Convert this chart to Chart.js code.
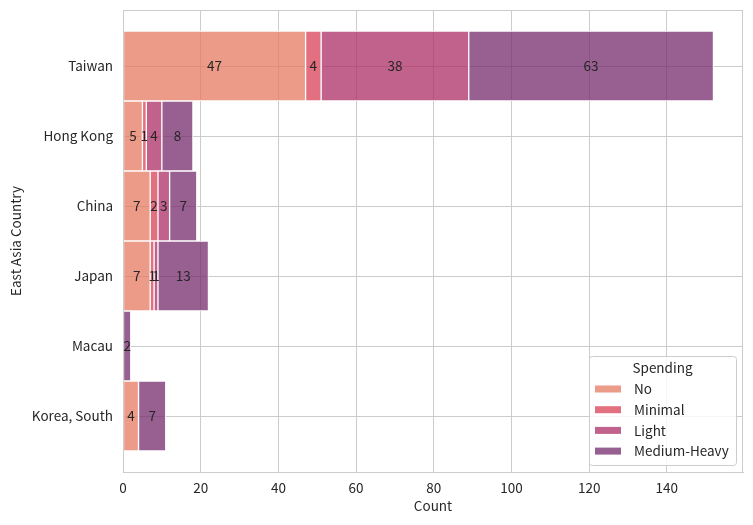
<!DOCTYPE html>
<html>
<head>
<meta charset="utf-8">
<script src="https://cdn.jsdelivr.net/npm/chart.js@4.4.1/dist/chart.umd.min.js"></script>
<style>
  html, body { margin: 0; padding: 0; background: #fff; }
  #wrap { width: 753px; height: 525px; }
</style>
</head>
<body>
<div id="wrap"><canvas id="chart"></canvas></div>
<script>
// data
const countries = ['Taiwan', 'Hong Kong', 'China', 'Japan', 'Macau', 'Korea, South'];
const spendingLevels = ['No', 'Minimal', 'Light', 'Medium-Heavy'];
const noCounts = [47, 5, 7, 7, 0, 4];
const minimalCounts = [4, 1, 2, 1, 0, 0];
const lightCounts = [38, 4, 3, 1, 0, 0];
const heavyCounts = [63, 8, 7, 13, 2, 7];
const xTickStep = 20;

const seriesCounts = [noCounts, minimalCounts, lightCounts, heavyCounts];
const seriesColors = [
  'rgba(228, 122, 95, 0.75)',
  'rgba(216, 64, 86, 0.75)',
  'rgba(171, 46, 102, 0.75)',
  'rgba(118, 43, 108, 0.75)'
];

const FONT = '"Noto Sans CJK JP", "Noto Sans", sans-serif';
const FS = 13.5;
const GRID = '#cccccc';
const TEXT = '#262626';

const totals = countries.map((c, i) => seriesCounts.reduce((s, arr) => s + arr[i], 0));
const xMax = Math.max(...totals) * 1.05;

const datasets = spendingLevels.map((name, k) => ({
  label: name,
  data: seriesCounts[k].map((v, i) => ({ x: v, y: i })).filter(p => p.x > 0),
  backgroundColor: seriesColors[k],
  borderColor: '#ffffff',
  borderWidth: 1,
  borderSkipped: false,
  barPercentage: 1,
  categoryPercentage: 1
}));

// value labels in the middle of each segment
const segmentLabels = {
  id: 'segmentLabels',
  afterDatasetsDraw(chart) {
    const ctx = chart.ctx;
    ctx.save();
    ctx.font = FS + 'px ' + FONT;
    ctx.fillStyle = TEXT;
    ctx.textAlign = 'center';
    ctx.textBaseline = 'middle';
    chart.data.datasets.forEach((ds, di) => {
      const meta = chart.getDatasetMeta(di);
      meta.data.forEach((bar, j) => {
        const p = bar.getProps(['x', 'y', 'base'], true);
        ctx.fillText(String(ds.data[j].x), (p.x + p.base) / 2, p.y);
      });
    });
    // frame on all four sides
    const a = chart.chartArea;
    ctx.strokeStyle = GRID;
    ctx.lineWidth = 1;
    ctx.strokeRect(Math.round(a.left) + 0.5, Math.round(a.top) + 0.5,
      Math.round(a.right - a.left) - 1, Math.round(a.bottom - a.top));
    ctx.restore();
  }
};

// legend box inside the lower right corner
const insetLegend = {
  id: 'insetLegend',
  afterDraw(chart) {
    const ctx = chart.ctx;
    const a = chart.chartArea;
    const w = 147, h = 109;
    const x0 = a.right - 7 - w, y0 = a.bottom - 7 - h;
    ctx.save();
    ctx.beginPath();
    ctx.roundRect(x0 + 0.5, y0 + 0.5, w, h, 3);
    ctx.fillStyle = 'rgba(255,255,255,0.8)';
    ctx.fill();
    ctx.strokeStyle = GRID;
    ctx.lineWidth = 1;
    ctx.stroke();
    ctx.font = FS + 'px ' + FONT;
    ctx.fillStyle = TEXT;
    ctx.textBaseline = 'middle';
    ctx.textAlign = 'center';
    ctx.fillText('Spending', x0 + w / 2, y0 + 12);
    ctx.textAlign = 'left';
    chart.data.datasets.forEach((ds, i) => {
      const cy = y0 + 33 + i * 20.7;
      ctx.fillStyle = ds.backgroundColor;
      ctx.fillRect(x0 + 6, cy - 3.5, 26, 7);
      ctx.fillStyle = TEXT;
      ctx.fillText(ds.label, x0 + 45, cy);
    });
    ctx.restore();
  }
};

new Chart(document.getElementById('chart'), {
  type: 'bar',
  data: { datasets },
  plugins: [segmentLabels, insetLegend],
  options: {
    indexAxis: 'y',
    responsive: true,
    maintainAspectRatio: false,
    animation: false,
    layout: { padding: { top: 10, right: 10, left: 8, bottom: 11 } },
    scales: {
      x: {
        type: 'linear',
        stacked: true,
        min: 0,
        max: xMax,
        grid: { color: GRID, drawTicks: false },
        border: { color: GRID },
        ticks: {
          stepSize: xTickStep,
          includeBounds: false,
          padding: 8,
          color: TEXT,
          font: { family: FONT, size: FS }
        },
        title: {
          display: true,
          text: 'Count',
          color: TEXT,
          padding: { top: 0, bottom: 0 },
          font: { family: FONT, size: FS }
        },
        afterFit(scale) { scale.height = 42; }
      },
      y: {
        type: 'linear',
        stacked: true,
        reverse: true,
        offset: false,
        min: -0.8,
        max: countries.length - 1 + 0.8,
        afterBuildTicks(scale) {
          scale.ticks = countries.map((c, i) => ({ value: i }));
        },
        grid: { color: GRID, drawTicks: false, offset: false },
        border: { color: GRID },
        ticks: {
          padding: 10,
          color: TEXT,
          font: { family: FONT, size: FS },
          callback: (v) => countries[v]
        },
        title: {
          display: true,
          text: 'East Asia Country',
          color: TEXT,
          padding: { top: 0, bottom: 4 },
          font: { family: FONT, size: FS }
        },
        afterFit(scale) {
          scale.width = 115;
          scale.paddingTop = 0;
          scale.paddingBottom = 0;
        }
      }
    },
    plugins: {
      legend: { display: false },
      tooltip: { enabled: false }
    }
  }
});
</script>
</body>
</html>
